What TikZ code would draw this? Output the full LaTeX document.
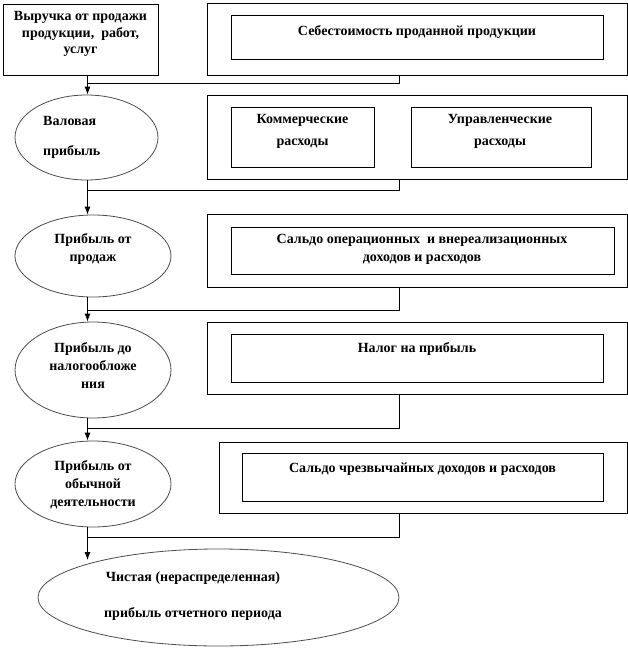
\documentclass[tikz,border=0pt]{standalone}
\usepackage{fontspec}
\setmainfont{Liberation Serif}
\usetikzlibrary{shapes.geometric,arrows.meta}
\begin{document}
\begin{tikzpicture}[x=1pt,y=-1pt,
  box/.style={draw=black,line width=0.9pt,rectangle,inner sep=0pt},
  oval/.style={draw=black!70,line width=0.8pt,ellipse,inner sep=0pt},
  txt/.style={font=\fontsize{14}{18}\selectfont\bfseries,align=center,inner sep=0pt},
  link/.style={line width=0.9pt},
  arr/.style={line width=0.9pt,-{Latex[length=8pt,width=6pt]}}]
\useasboundingbox (0,0) rectangle (628,648);
% boxes
\node[box,minimum width=155pt,minimum height=71pt] (rev) at (80.5,39.5) {};
\node[box,minimum width=420pt,minimum height=72pt] (o1) at (417,39) {};
\node[box,minimum width=372pt,minimum height=44pt] (i1) at (417,37) {};
\node[box,minimum width=420pt,minimum height=84pt] (o2) at (417,137) {};
\node[box,minimum width=143pt,minimum height=60pt] (i2a) at (302.5,137) {};
\node[box,minimum width=180pt,minimum height=60pt] (i2b) at (501,137) {};
\node[box,minimum width=420pt,minimum height=73pt] (o3) at (417,250.5) {};
\node[box,minimum width=383pt,minimum height=47pt] (i3) at (422.5,250.5) {};
\node[box,minimum width=420pt,minimum height=72pt] (o4) at (417,358) {};
\node[box,minimum width=372pt,minimum height=48pt] (i4) at (417,358) {};
\node[box,minimum width=408pt,minimum height=71pt] (o5) at (423,477.5) {};
\node[box,minimum width=361pt,minimum height=48pt] (i5) at (422.5,477) {};
% ellipses
\node[oval,minimum width=143pt,minimum height=85pt] (val) at (86.5,137.5) {};
\node[oval,minimum width=156pt,minimum height=82pt] (sales) at (93,256) {};
\node[oval,minimum width=156pt,minimum height=96pt] (pretax) at (93,370) {};
\node[oval,minimum width=156pt,minimum height=86pt] (ord) at (93,484) {};
\node[oval,minimum width=361pt,minimum height=97pt] (net) at (218.5,597.5) {};
% texts
\node[txt,font=\fontsize{14}{16.5}\selectfont\bfseries] (trev) at (80.5,34) {Выручка от продажи\\продукции,~ работ,\\услуг};
\node[txt] (ti1) at (417,32) {Себестоимость проданной продукции};
\node[txt,align=left,anchor=west,font=\fontsize{14}{30}\selectfont\bfseries] (tval) at (43,137.5) {Валовая\\прибыль};
\node[txt,font=\fontsize{14}{22}\selectfont\bfseries] (ti2a) at (302.5,131.5) {Коммерческие\\расходы};
\node[txt,font=\fontsize{14}{22}\selectfont\bfseries] (ti2b) at (500,131.5) {Управленческие\\расходы};
\node[txt] (tsales) at (93,249) {Прибыль от\\продаж};
\node[txt] (ti3) at (422,249) {Сальдо операционных~ и внереализационных\\доходов и расходов};
\node[txt] (tpretax) at (93,365.5) {Прибыль до\\налогообложе\\ния};
\node[txt] (ti4) at (417,348.5) {Налог на прибыль};
\node[txt] (tord) at (93,484.5) {Прибыль от\\обычной\\деятельности};
\node[txt] (ti5) at (422.5,469.5) {Сальдо чрезвычайных доходов и расходов};
\node[txt,font=\fontsize{14}{36}\selectfont\bfseries] (tnet) at (193,596.5) {Чистая (нераспределенная)\\прибыль отчетного периода};
% spine and taps
\coordinate (spine) at (87.5,0);
\coordinate (tap) at (399,0);
\coordinate (j1) at (87.5,83);
\coordinate (j2) at (87.5,190);
\coordinate (j3) at (87.5,310);
\coordinate (j4) at (87.5,428);
\coordinate (j5) at (87.5,537);
\coordinate (netin) at (87.5,560);
\draw[arr] (rev.south -| spine) -- (val.north -| spine);
\draw[arr] (val.south -| spine) -- (sales.north -| spine);
\draw[arr] (sales.south -| spine) -- (pretax.north -| spine);
\draw[arr] (pretax.south -| spine) -- (ord.north -| spine);
\draw[arr] (ord.south -| spine) -- (netin);
\draw[link] (o1.south -| tap) |- (j1);
\draw[link] (o2.south -| tap) |- (j2);
\draw[link] (o3.south -| tap) |- (j3);
\draw[link] (o4.south -| tap) |- (j4);
\draw[link] (o5.south -| tap) |- (j5);
\end{tikzpicture}
\end{document}
